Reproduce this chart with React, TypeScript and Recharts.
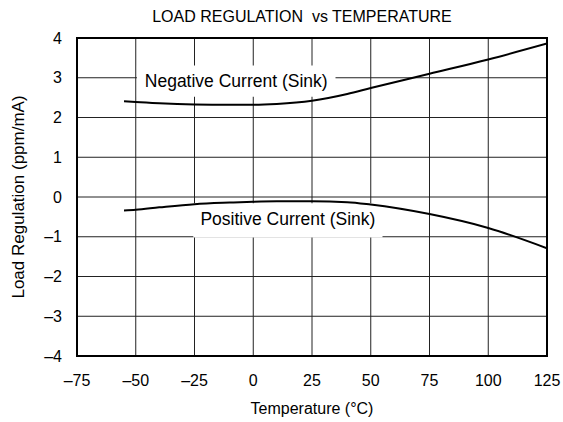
import {
  LineChart,
  XAxis,
  YAxis,
  Line,
  CartesianGrid,
  ReferenceArea,
} from "recharts";

const temps = [-55, -50, -40, -25, -10, 0, 10, 25, 40, 50, 75, 100, 125];
const negativeSink = [2.41, 2.39, 2.36, 2.33, 2.32, 2.32, 2.34, 2.42, 2.59, 2.74, 3.1, 3.46, 3.86];
const positiveSink = [-0.34, -0.32, -0.26, -0.18, -0.14, -0.12, -0.11, -0.11, -0.13, -0.19, -0.43, -0.78, -1.29];

const xTicks = [-75, -50, -25, 0, 25, 50, 75, 100, 125];
const yTicks = [-4, -3, -2, -1, 0, 1, 2, 3, 4];

const data = temps.map((t, i) => ({
  temp: t,
  neg: negativeSink[i],
  pos: positiveSink[i],
}));

const font = "'Liberation Sans', Arial, sans-serif";
const dash = (v: number) => String(v).replace("-", "\u2013");

function LoadRegulationChart() {
  return (
    <div style={{ position: "absolute", left: 0, top: 0, width: 563, height: 422, background: "#fff", fontFamily: font }}>
      <div
        style={{
          position: "absolute",
          top: 7,
          left: 0,
          width: 604,
          textAlign: "center",
          fontSize: 16,
          lineHeight: "20px",
          color: "#000",
          whiteSpace: "pre",
        }}>
        {"LOAD REGULATION  vs TEMPERATURE"}
      </div>
      <LineChart
        width={563}
        height={422}
        data={data}
        margin={{ top: 38, right: 16, left: 0, bottom: 0 }}
        style={{ fontFamily: font }}>
        <CartesianGrid stroke="#222" strokeWidth={1} />
        <XAxis
          dataKey="temp"
          type="number"
          domain={[-75, 125]}
          ticks={xTicks}
          allowDataOverflow
          height={66}
          axisLine={false}
          tickLine={false}
          tickSize={0}
          tickMargin={19}
          tickFormatter={dash}
          tick={{ fill: "#000", fontSize: 16 }}
          label={{ value: "Temperature (°C)", position: "insideBottom", offset: 8, fill: "#000", fontSize: 16 }}
        />
        <YAxis
          type="number"
          domain={[-4, 4]}
          ticks={yTicks}
          allowDataOverflow
          width={77}
          axisLine={false}
          tickLine={false}
          tickSize={0}
          tickMargin={15}
          tickFormatter={dash}
          tick={{ fill: "#000", fontSize: 16 }}
          label={{ value: "Load Regulation (ppm/mA)", angle: -90, position: "center", dx: -21, fill: "#000", fontSize: 17 }}
        />
        <ReferenceArea
          x1={-49.5}
          x2={35}
          y1={2.52}
          y2={3.31}
          fill="#fff"
          fillOpacity={1}
          stroke="none"
          label={{ value: "Negative Current (Sink)", position: "center", fill: "#000", fontSize: 17.5 }}
        />
        <ReferenceArea
          x1={-25.5}
          x2={55}
          y1={-1.02}
          y2={-0.16}
          fill="#fff"
          fillOpacity={1}
          stroke="none"
          label={{ value: "Positive Current (Sink)", position: "center", dy: -2, fill: "#000", fontSize: 17.5 }}
        />
        <ReferenceArea x1={-75} x2={125} y1={-4} y2={4} fill="none" stroke="#000" strokeWidth={2} />
        <Line type="monotone" dataKey="neg" stroke="#000" strokeWidth={2} dot={false} isAnimationActive={false} />
        <Line type="monotone" dataKey="pos" stroke="#000" strokeWidth={2} dot={false} isAnimationActive={false} />
      </LineChart>
    </div>
  );
}

export default function App() {
  return <LoadRegulationChart />;
}
